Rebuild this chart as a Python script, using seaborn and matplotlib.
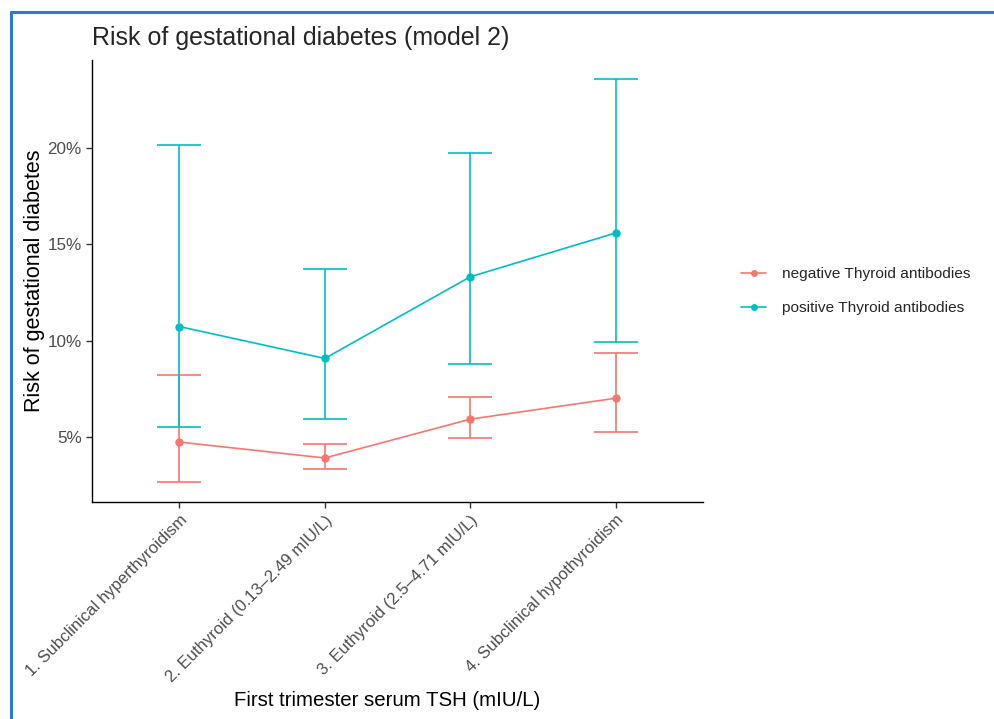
import numpy as np
import pandas as pd
import seaborn as sns
import matplotlib.pyplot as plt
from matplotlib.lines import Line2D

categories = ['1. Subclinical hyperthyroidism',
              '2. Euthyroid (0.13\u20132.49 mIU/L)',
              '3. Euthyroid (2.5\u20134.71 mIU/L)',
              '4. Subclinical hypothyroidism']
groups = ['negative Thyroid antibodies', 'positive Thyroid antibodies']

neg_risk = [4.72, 3.89, 5.91, 7.00]
neg_low = [2.64, 3.32, 4.92, 5.23]
neg_high = [8.19, 4.61, 7.05, 9.33]

pos_risk = [10.73, 9.07, 13.32, 15.60]
pos_low = [5.49, 5.91, 8.76, 9.95]
pos_high = [20.15, 13.73, 19.74, 23.63]

colors = ['#F8766D', '#00BFC4']

df = pd.DataFrame({
    'tsh': categories * 2,
    'group': [groups[0]] * 4 + [groups[1]] * 4,
    'risk': neg_risk + pos_risk,
    'low': neg_low + pos_low,
    'high': neg_high + pos_high,
})

sns.set_style('white')
plt.rcParams['font.family'] = ['Liberation Sans', 'DejaVu Sans']

fig = plt.figure(figsize=(9.94, 7.19), dpi=100)
ax = fig.add_axes([0.0926, 0.3018, 0.6147, 0.6148])

sns.lineplot(data=df, x='tsh', y='risk', hue='group', palette=colors,
             marker='o', markersize=6, markeredgewidth=0, linewidth=1.2,
             ax=ax, legend=False, sort=False)

pos = np.arange(len(categories))
for g, c in zip(groups, colors):
    sub = df[df['group'] == g]
    ax.errorbar(pos, sub['risk'],
                yerr=[sub['risk'] - sub['low'], sub['high'] - sub['risk']],
                fmt='none', ecolor=c, elinewidth=1.2, capsize=16, capthick=1.2)

ax.set_xlim(-0.6, 3.6)
ax.set_ylim(1.6, 24.6)
ax.set_yticks([5, 10, 15, 20])
ax.set_yticklabels(['5%', '10%', '15%', '20%'])
ax.set_xticks(pos)
ax.set_xticklabels(categories, rotation=45, ha='right', rotation_mode='anchor')

for side in ['top', 'right']:
    ax.spines[side].set_visible(False)
for side in ['left', 'bottom']:
    ax.spines[side].set_color('black')
    ax.spines[side].set_linewidth(1.0)
ax.tick_params(axis='both', length=4, width=1, color='#333333',
               labelsize=12.3, labelcolor='#4D4D4D', direction='out', left=True, bottom=True)
ax.tick_params(axis='x', labelsize=12)

ax.set_xlabel('First trimester serum TSH (mIU/L)', fontsize=14.7, color='black')
ax.xaxis.set_label_coords(0.483, -0.428)
ax.set_ylabel('Risk of gestational diabetes', fontsize=15.5, color='black', labelpad=2)
ax.set_title('Risk of gestational diabetes (model 2)', loc='left', fontsize=18, pad=11)

handles = [Line2D([0], [0], color=c, marker='o', markersize=5, markeredgewidth=0, linewidth=1.2)
           for c in colors]
fig.legend(handles, groups, loc='center left', bbox_to_anchor=(0.732, 0.595),
           frameon=False, fontsize=11.1, handlelength=1.6, labelspacing=1.3, handletextpad=1.0)

# screenshot frame
fig.add_artist(Line2D([0.011, 0.011], [0, 0.983], color='#2A7BD6', linewidth=2.2,
                      transform=fig.transFigure))
fig.add_artist(Line2D([0.011, 1.0], [0.983, 0.983], color='#2A7BD6', linewidth=2.2,
                      transform=fig.transFigure))

fig.savefig('out.png', dpi=100)
